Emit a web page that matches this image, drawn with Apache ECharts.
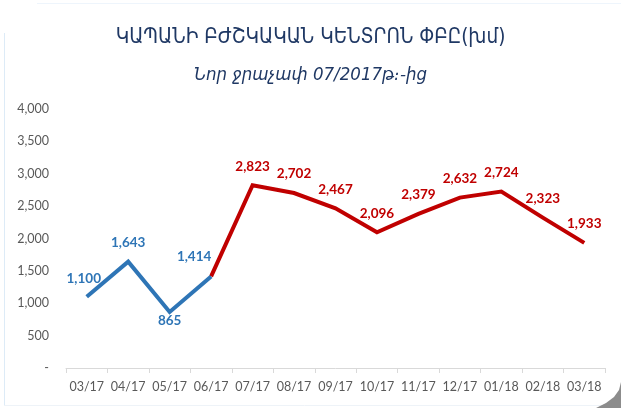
<!DOCTYPE html>
<html>
<head>
<meta charset="utf-8">
<script src="https://cdn.jsdelivr.net/npm/echarts@6/dist/echarts.min.js"></script>
<style>html,body{margin:0;padding:0;background:#fff;}#c{width:621px;height:408px;}</style>
</head>
<body>
<div id="c"></div>
<script>
const categories = ['03/17','04/17','05/17','06/17','07/17','08/17','09/17','10/17','11/17','12/17','01/18','02/18','03/18'];
const oldMeter = [1100, 1643, 865, 1414, null, null, null, null, null, null, null, null, null];
const newMeter = [null, null, null, 1414, 2823, 2702, 2467, 2096, 2379, 2632, 2724, 2323, 1933];
const yTicks = [0, 500, 1000, 1500, 2000, 2500, 3000, 3500, 4000];
const titleText = 'ԿԱՊԱՆԻ ԲԺՇԿԱԿԱՆ ԿԵՆՏՐՈՆ ՓԲԸ(խմ)';
const subtitleText = 'Նոր ջրաչափ 07/2017թ։-ից';

const fmt = v => v === 0 ? '-' : v.toLocaleString('en-US');
const chart = echarts.init(document.getElementById('c'));
chart.setOption({
  animation: false,
  backgroundColor: '#fff',
  title: [
    {text: titleText, left: 'center', top: 22, textStyle: {fontFamily: 'DejaVu Sans Condensed, DejaVu Sans', fontWeight: 'normal', fontSize: 20.5, color: '#1F3864'}},
    {text: subtitleText, left: 'center', top: 61, textStyle: {fontFamily: 'DejaVu Sans Condensed, DejaVu Sans', fontStyle: 'italic', fontWeight: 'normal', fontSize: 18.5, color: '#1F3864'}}
  ],
  grid: {left: 66, right: 16, top: 109, bottom: 40},
  xAxis: {
    type: 'category', data: categories, boundaryGap: true,
    axisLine: {lineStyle: {color: '#D9D9D9', width: 1}},
    axisTick: {show: true, interval: 0, alignWithLabel: false, length: 5, lineStyle: {color: '#D9D9D9'}},
    axisLabel: {interval: 0, color: '#595959', fontFamily: 'Lato', fontSize: 12.5, margin: 12}
  },
  yAxis: {
    type: 'value', min: yTicks[0], max: yTicks[yTicks.length-1], interval: 500,
    axisLine: {show: false}, axisTick: {show: false}, splitLine: {show: false},
    axisLabel: {color: '#595959', fontFamily: 'Lato', fontSize: 12.5, margin: 17, formatter: fmt}
  },
  series: [
    {
      type: 'line', data: newMeter, showSymbol: true, symbol: 'circle', symbolSize: 2, connectNulls: false,
      itemStyle: {color: 'rgba(0,0,0,0)', borderWidth: 0},
      lineStyle: {color: '#C00000', width: 4, join: 'miter'},
      label: {show: true, position: 'top', distance: 11, color: '#C00000', fontFamily: 'Lato', fontWeight: 'bold', fontSize: 13.5,
        formatter: p => p.dataIndex === 3 ? '' : fmt(p.value)}
    },
    {
      type: 'line', data: oldMeter, showSymbol: true, symbol: 'circle', symbolSize: 2,
      itemStyle: {color: 'rgba(0,0,0,0)', borderWidth: 0},
      lineStyle: {color: '#2E75B6', width: 4, join: 'miter'},
      label: {show: true, position: 'top', distance: 11, color: '#2E75B6', fontFamily: 'Lato', fontWeight: 'bold', fontSize: 13.5,
        formatter: p => fmt(p.value)},
      labelLayout: function (params) {
        if (params.dataIndex === 2) return {dy: 28};
        if (params.dataIndex === 3) return {dx: -17, dy: -1};
        if (params.dataIndex === 0) return {dx: -3, dy: 1};
        return {};
      }
    }
  ],
  graphic: [
    {type: 'line', shape: {x1: 4.5, y1: 33, x2: 4.5, y2: 405}, style: {stroke: '#DDEBF7', lineWidth: 1}, silent: true},
    {type: 'line', shape: {x1: 4, y1: 405.5, x2: 605, y2: 405.5}, style: {stroke: '#EEF3F8', lineWidth: 1}, silent: true},
    {type: 'line', shape: {x1: 37, y1: 3.5, x2: 621, y2: 3.5}, style: {stroke: '#EEF5FC', lineWidth: 1}, silent: true},
    {type: 'polygon', shape: {points: [[621,382],[619,390],[614,397],[606,403],[596,408],[621,408]]}, style: {fill: '#8C8C8C'}, silent: true}
  ]
});
</script>
</body>
</html>
